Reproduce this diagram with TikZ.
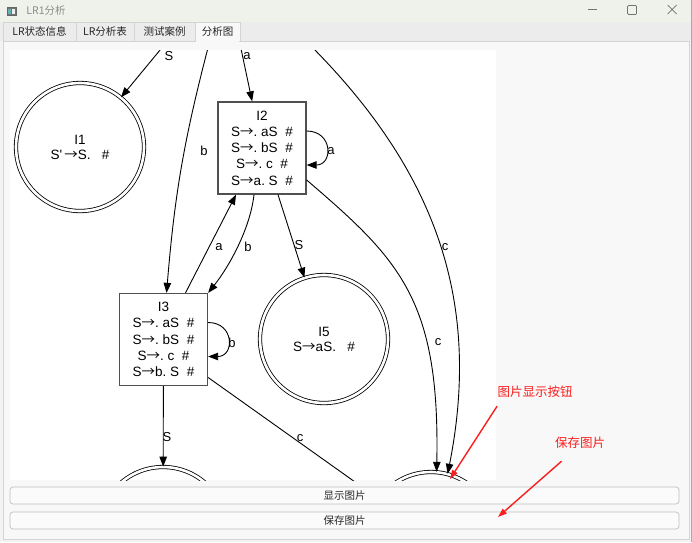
\documentclass[tikz,border=0pt]{standalone}
\usepackage{fontspec}
\setmainfont{Liberation Sans}
\newfontfamily\cjk{Noto Sans CJK SC}
\newcommand\goesto{{\cjk →}}
\usetikzlibrary{arrows.meta}
\definecolor{winbg}{RGB}{243,243,243}
\definecolor{titlebg}{RGB}{238,242,234}
\definecolor{tabbar}{RGB}{236,236,236}
\definecolor{pagebg}{RGB}{248,248,248}
\definecolor{frame}{RGB}{212,212,212}
\definecolor{boxline}{RGB}{80,80,80}
\definecolor{note}{RGB}{250,30,30}
\begin{document}
\begin{tikzpicture}[x=1pt, y=1pt, >={Triangle[length=10pt,width=7.5pt]}, line width=0.9pt,
  state/.style={draw=boxline, line width=1.3pt, fill=white, minimum width=88pt, minimum height=92pt,
    inner sep=0pt, align=center, font=\fontsize{13.5}{16.3}\selectfont},
  final/.style={circle, draw, double, double distance=2.6pt, line width=0.8pt, minimum size=128pt,
    inner sep=0pt, align=center, font=\fontsize{13.5}{15}\selectfont},
  lbl/.style={inner sep=0pt, font=\fontsize{13}{13}\selectfont},
  ui/.style={inner sep=0pt, font=\cjk\fontsize{10.5}{12}\selectfont, text=black!85},
  tabbox/.style={draw=frame, fill=tabbar, line width=0.6pt, minimum height=19pt, ui},
  btn/.style={draw=frame!90!black, fill=white!70!winbg, rounded corners=3pt, line width=0.7pt, ui},
  redtxt/.style={inner sep=0pt, font=\cjk\fontsize{12.5}{14}\selectfont, text=note},
  redarrow/.style={draw=note, line width=1.4pt, -{Triangle[length=9pt,width=6pt]}}]
\useasboundingbox (0,0) rectangle (692,-542);
% window
\fill[winbg] (0,0) rectangle (692,-542);
\fill[titlebg] (0,0) rectangle (692,-22);
\fill[tabbar] (0,-22) rectangle (692,-41);
\draw[frame!80!black, line width=0.8pt] (691,0) -- (691,-542);
\filldraw[fill=black!55, draw=black!60, line width=0.5pt] (7,-7) rectangle (16,-15);
\fill[teal!60] (8,-9) rectangle (11,-14);
\fill[white!85!gray] (11.5,-9) rectangle (15,-14);
\node[inner sep=0pt, anchor=west, font=\cjk\fontsize{10.5}{12}\selectfont, text=black!45] (title) at (26,-11) {LR1分析};
\draw[black!55, line width=0.7pt] (588,-9.5) -- (597,-9.5);
\draw[black!55, line width=0.7pt, rounded corners=1pt] (627.5,-5.5) rectangle (636.5,-14.5);
\draw[black!55, line width=0.7pt] (667.5,-5) -- (676.5,-14) (667.5,-14) -- (676.5,-5);
% tabs
\filldraw[fill=pagebg, draw=frame, line width=0.6pt] (3,-41) rectangle (689,-539);
\node[tabbox, minimum width=73pt] (tab1) at (39.5,-31.5) {LR状态信息};
\node[tabbox, minimum width=58pt] (tab2) at (105,-31.5) {LR分析表};
\node[tabbox, minimum width=61pt] (tab3) at (164.5,-31.5) {测试案例};
\node[tabbox, fill=pagebg, minimum width=45pt] (tab4) at (217.5,-31.5) {分析图};
\draw[pagebg, line width=1pt] (195.6,-41) -- (239.4,-41);
% canvas
\fill[white] (10,-50) rectangle (496,-480);
\begin{scope}
\clip (10,-50) rectangle (496,-480);
\node[final] (I1) at (80,-147) {I1\\S\textquotesingle\,\goesto S.\ \ \ \#};
\node[state] (I2) at (262,-148) {I2\\S\goesto.\ aS\ \ \#\\S\goesto.\ bS\ \ \#\\S\goesto.\ c\ \ \#\\S\goesto a.\ S\ \ \#};
\node[state] (I3) at (163.5,-339.5) {I3\\S\goesto.\ aS\ \ \#\\S\goesto.\ bS\ \ \#\\S\goesto.\ c\ \ \#\\S\goesto b.\ S\ \ \#};
\node[final] (I5) at (324,-339) {I5\\S\goesto aS.\ \ \ \#};
\node[final] (I6) at (163,-531) {};
\node[final] (I4) at (431,-536) {};
\coordinate (topS) at (165,-44);
\coordinate (topA) at (240,-44);
\coordinate (topB) at (209,-44);
\coordinate (topC) at (309,-44);

\draw[->] (topS) -- (I1);
\draw[->] (topA) -- (I2);
\draw[->] (topB) to[bend right=5] (I3);
\draw[->] (topC) .. controls (435,-170) and (482,-300) .. (I4.75);
\draw[->] ([yshift=17pt]I2.east) to[out=0, in=0, looseness=2] ([yshift=-17pt]I2.east);
\draw[->] ([xshift=22pt]I3.north) -- ([xshift=-26pt]I2.south);
\draw[->] ([xshift=-8pt]I2.south) .. controls (250,-230) and (228,-268) .. (I3.north east);
\draw[->] ([xshift=16pt]I2.south) -- (I5);
\draw[->] ([yshift=-32pt]I2.east) .. controls (400,-260) and (440,-300) .. (I4.85);
\draw[->] ([yshift=17pt]I3.east) to[out=0, in=0, looseness=2] ([yshift=-17pt]I3.east);
\draw[->] (I3) -- (I6);
\draw[->] ([yshift=-38pt]I3.east) -- (I4);

\node[lbl] (lS1) at (169,-56) {S};
\node[lbl] (la1) at (247,-56) {a};
\node[lbl] (lb1) at (204,-151) {b};
\node[lbl] (la2) at (331,-151) {a};
\node[lbl] (lc1) at (445,-247) {c};
\node[lbl] (la3) at (219,-247) {a};
\node[lbl] (lb2) at (248,-247) {b};
\node[lbl] (lS2) at (299,-245) {S};
\node[lbl] (lc2) at (438,-342) {c};
\node[lbl] (lb3) at (232,-343) {b};
\node[lbl] (lS3) at (167,-437) {S};
\node[lbl] (lc3) at (300,-438) {c};
\end{scope}
% buttons
\node[btn, minimum width=669pt, minimum height=17pt] (showbtn) at (344.5,-495.5) {显示图片};
\node[btn, minimum width=669pt, minimum height=17pt] (savebtn) at (344.5,-520.5) {保存图片};
% notes
\node[redtxt] (shownote) at (535,-392) {图片显示按钮};
\node[redtxt] (savenote) at (580,-443) {保存图片};
\coordinate (showtip) at (450,-479);
\coordinate (savetip) at (498,-517);
\draw[redarrow] ([yshift=-8pt]shownote.south west) -- (showtip);
\draw[redarrow] ([shift={(7pt,-12pt)}]savenote.south west) -- (savetip);
\end{tikzpicture}
\end{document}
